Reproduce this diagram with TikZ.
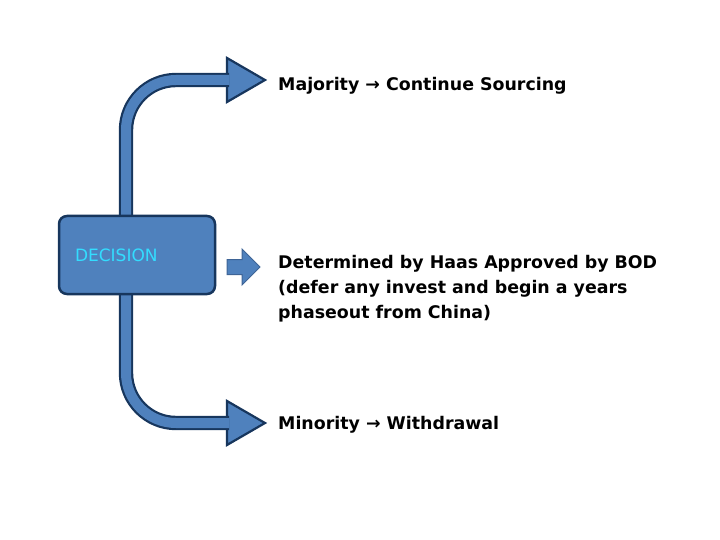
\documentclass[tikz,border=0pt]{standalone}
\usepackage{fontspec}
\setmainfont{DejaVu Sans}
\usetikzlibrary{calc}

\definecolor{boxblue}{RGB}{79,129,189}
\definecolor{edgenavy}{RGB}{23,54,93}
\definecolor{midedge}{RGB}{62,100,150}
\definecolor{labelcyan}{RGB}{51,221,255}

\tikzset{
  choice/.style={font=\fontsize{17.4}{25}\selectfont\bfseries, anchor=base west, inner sep=0pt, align=left},
  bent/.style={line width=2.2pt, draw=edgenavy, double=boxblue, double distance=10pt, rounded corners=50pt},
  tip/.style={fill=boxblue, draw=edgenavy, line width=2.2pt, line join=miter},
}

\begin{document}
\begin{tikzpicture}[x=1pt,y=-1pt]
\useasboundingbox (0,0) rectangle (720,540);

% the three outcomes
\node[choice] (major) at (278,90.5) {Majority \symbol{"2192} Continue Sourcing};
\node[choice] (board) at (278,318) {Determined by Haas Approved by BOD\\(defer any invest and begin a years\\phaseout from China)};
\node[choice] (minor) at (278,429.5) {Minority \symbol{"2192} Withdrawal};

\coordinate (uptip) at (265,80);
\coordinate (downtip) at (265,423);

% heads first, shafts over them
\draw[tip] (uptip) -- ++(-38,-22) -- ++(0,44) -- cycle;
\draw[tip] (downtip) -- ++(-38,-22) -- ++(0,44) -- cycle;

\draw[bent] (126,216) |- ($(uptip)+(-36,0)$);
\draw[bent] (126,294) |- ($(downtip)+(-36,0)$);

% the decision box
\node[draw=edgenavy, fill=boxblue, line width=2.5pt, rounded corners=8pt,
      minimum width=156, minimum height=78, inner xsep=16pt, text width=124pt,
      align=left, font=\fontsize{17}{19}\selectfont, text=labelcyan] (decision) at (137,255) {DECISION};

% small arrow to the middle outcome
\draw[fill=boxblue, draw=midedge, line width=1pt]
  (227,259.5) -- (242,259.5) -- (242,249) -- (260,267) -- (242,285) -- (242,274.5) -- (227,274.5) -- cycle;

\end{tikzpicture}
\end{document}
